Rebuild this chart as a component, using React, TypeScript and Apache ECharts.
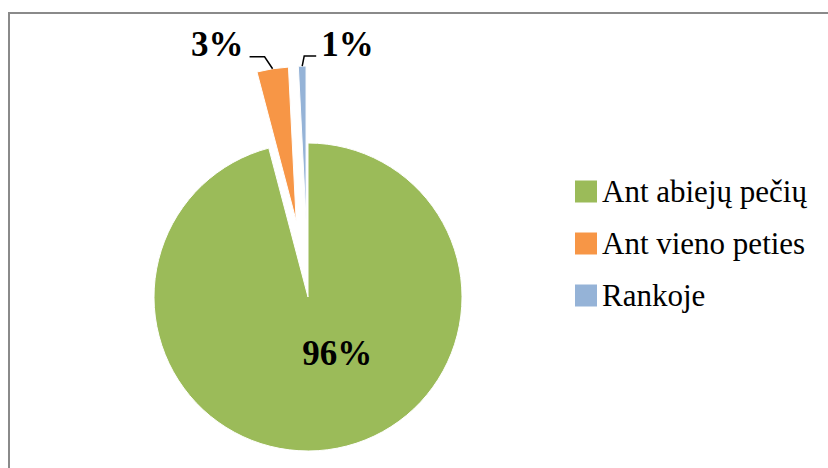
import React, { useEffect, useRef } from "react";
import * as echarts from "echarts";

const categories = ["Ant abiejų pečių", "Ant vieno peties", "Rankoje"];
const values = [95.9, 3.3, 0.8];
const colors = ["#9BBB59", "#F79646", "#95B3D7"];
const exploded = [false, true, true];

const CX = 308;
const CY = 297;
const R = 154;
const OFF = 77;
const SERIF = "Liberation Serif";

function midDir(i: number) {
  const total = values.reduce((a, b) => a + b, 0);
  let cum = 0;
  for (let k = 0; k < i; k++) cum += values[k];
  const frac = (cum + values[i] / 2) / total;
  const th = frac * Math.PI * 2;
  return [Math.sin(th), -Math.cos(th)];
}

function pct(i: number) {
  const total = values.reduce((a, b) => a + b, 0);
  return Math.round((values[i] / total) * 100) + "%";
}

export default function App() {
  const ref = useRef<HTMLDivElement>(null);
  useEffect(() => {
    if (!ref.current) return;
    const chart = echarts.init(ref.current, undefined, { renderer: "svg" });
    const labelFont = {
      fontFamily: SERIF,
      fontWeight: "bold" as const,
      fontSize: 35,
      fill: "#000",
    };

    // outside labels with leader lines (geometry computed from data)
    const outside: any[] = [];
    [1, 2].forEach((i) => {
      const d = midDir(i);
      const p0 = [CX + (R + OFF) * d[0], CY + (R + OFF) * d[1]];
      const left = i === 1;
      const p1 = left ? [p0[0] - 8, p0[1] - 12] : [p0[0] + 2, p0[1] - 10];
      const p2 = left ? [p1[0] - 15, p1[1]] : [p1[0] + 12, p1[1]];
      outside.push({
        type: "polyline",
        silent: true,
        shape: { points: [p0, p1, p2] },
        style: { stroke: "#000", lineWidth: 1.5, fill: "none" },
        z: 10,
      });
      outside.push({
        type: "text",
        silent: true,
        x: left ? p2[0] - 6 : p2[0] + 5,
        y: p2[1] - 12,
        style: {
          text: pct(i),
          ...labelFont,
          align: left ? "right" : "left",
          verticalAlign: "middle",
        },
        z: 10,
      });
    });

    chart.setOption({
      animation: false,
      backgroundColor: "#fff",
      textStyle: { fontFamily: SERIF },
      graphic: [
        {
          type: "rect",
          silent: true,
          shape: { x: 9, y: 13, width: 840, height: 480 },
          style: { fill: "none", stroke: "#8a8a8a", lineWidth: 2 },
        },
        ...outside,
      ],
      legend: {
        orient: "vertical",
        left: 575,
        top: 176,
        padding: 0,
        icon: "rect",
        itemWidth: 22,
        itemHeight: 22,
        itemGap: 21,
        selectedMode: false,
        itemStyle: { borderWidth: 0 },
        textStyle: {
          fontFamily: SERIF,
          fontSize: 31,
          color: "#000",
        },
        data: categories,
      },
      series: [
        {
          type: "pie",
          center: [CX, CY],
          radius: R,
          startAngle: 90,
          clockwise: true,
          selectedMode: "multiple",
          selectedOffset: OFF,
          avoidLabelOverlap: false,
          emphasis: { disabled: true },
          itemStyle: { borderColor: "#fff", borderWidth: 1 },
          label: {
            show: true,
            position: "inside",
            fontFamily: SERIF,
            fontWeight: "bold",
            fontSize: 35,
            color: "#000",
            formatter: (p: any) => Math.round(p.percent) + "%",
          },
          labelLine: { show: false },
          labelLayout: (params: any) =>
            params.dataIndex === 0 ? { dx: 19, dy: -23 } : {},
          data: categories.map((name, i) => ({
            name,
            value: values[i],
            selected: exploded[i],
            itemStyle: { color: colors[i] },
            label: { show: i === 0 },
          })),
        },
      ],
    });
    return () => chart.dispose();
  }, []);
  return (
    <div
      ref={ref}
      style={{ position: "fixed", left: 0, top: 0, width: 828, height: 468 }}
    />
  );
}
